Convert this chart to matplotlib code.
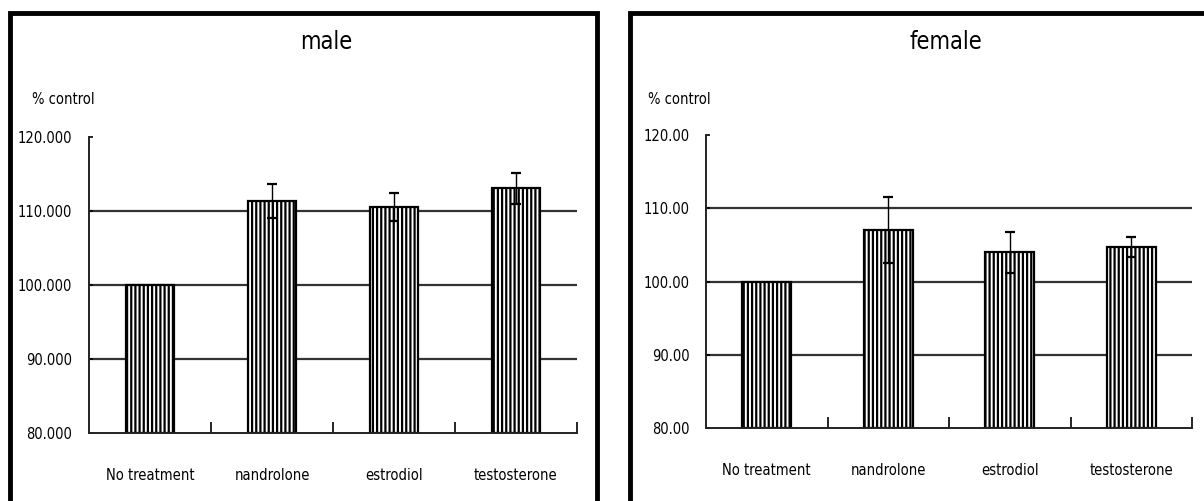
import numpy as np
import matplotlib.pyplot as plt
from matplotlib.patches import Rectangle

plt.rcParams['font.family'] = ['DejaVu Sans']
plt.rcParams['font.stretch'] = 'condensed'
plt.rcParams['hatch.linewidth'] = 1.6

categories = ["No treatment", "nandrolone", "estrodiol", "testosterone"]

male_values = [100.0, 111.4, 110.6, 113.1]
male_errors = [0.0, 2.3, 1.9, 2.1]

female_values = [100.0, 107.0, 104.0, 104.7]
female_errors = [0.0, 4.5, 2.8, 1.4]

y_ticks = [80, 90, 100, 110, 120]
grid_levels = [90, 100, 110]

W, H = 1204, 501
fig = plt.figure(figsize=(W / 100, H / 100), dpi=100)


def px_axes(x0, x1, y_bottom, y_top):
    return fig.add_axes([x0 / W, 1 - y_bottom / H, (x1 - x0) / W, (y_bottom - y_top) / H])


def draw_panel(ax, values, errors, title, fmt, title_x, label_x):
    x = np.arange(len(categories))
    for lvl in grid_levels:
        ax.axhline(lvl, color='#333333', lw=1.6, zorder=1)
    ax.bar(x, [v - 80 for v in values], bottom=80, width=0.4, color='white',
           edgecolor='black', hatch='||||', lw=1.6, zorder=2)
    has_err = [i for i, e in enumerate(errors) if e > 0]
    ax.errorbar([x[i] for i in has_err], [values[i] for i in has_err],
                yerr=[errors[i] for i in has_err], fmt='none', ecolor='black',
                elinewidth=1.0, capsize=3.5, capthick=1.6, zorder=3)
    ax.set_xlim(-0.5, len(categories) - 0.5)
    ax.set_ylim(80, 120)
    ax.set_yticks(y_ticks)
    ax.set_yticklabels([fmt.format(v) for v in y_ticks])
    ax.set_xticks(x)
    ax.set_xticklabels(categories)
    ax.set_xticks(np.arange(len(categories)) + 0.5, minor=True)
    ax.tick_params(axis='x', which='major', length=0, pad=25, labelsize=10.5)
    ax.tick_params(axis='x', which='minor', direction='in', length=8, width=1.2)
    ax.tick_params(axis='y', direction='in', length=3, width=1.2, pad=12, labelsize=10.5)
    for s in ['top', 'right']:
        ax.spines[s].set_visible(False)
    for s in ['left', 'bottom']:
        ax.spines[s].set_linewidth(1.4)
        ax.spines[s].set_color('#222222')
    fig.text(title_x / W, 1 - 42 / H, title, ha='center', va='center', fontsize=17)
    fig.text(label_x / W, 1 - 100 / H, "% control", ha='left', va='center', fontsize=10.5)


ax1 = px_axes(89, 577, 433, 137)
draw_panel(ax1, male_values, male_errors, "male", "{:.3f}", 326, 32)

ax2 = px_axes(706, 1192, 428, 135)
draw_panel(ax2, female_values, female_errors, "female", "{:.2f}", 946, 648)

# thick black frames around each panel
for x0, x1 in [(10, 597), (630, 1215)]:
    fig.add_artist(Rectangle((x0 / W, -0.05), (x1 - x0) / W, 1.05 - 13 / H,
                             transform=fig.transFigure, fill=False,
                             edgecolor='black', lw=3.5, clip_on=False))

fig.savefig("out.png", dpi=100)
